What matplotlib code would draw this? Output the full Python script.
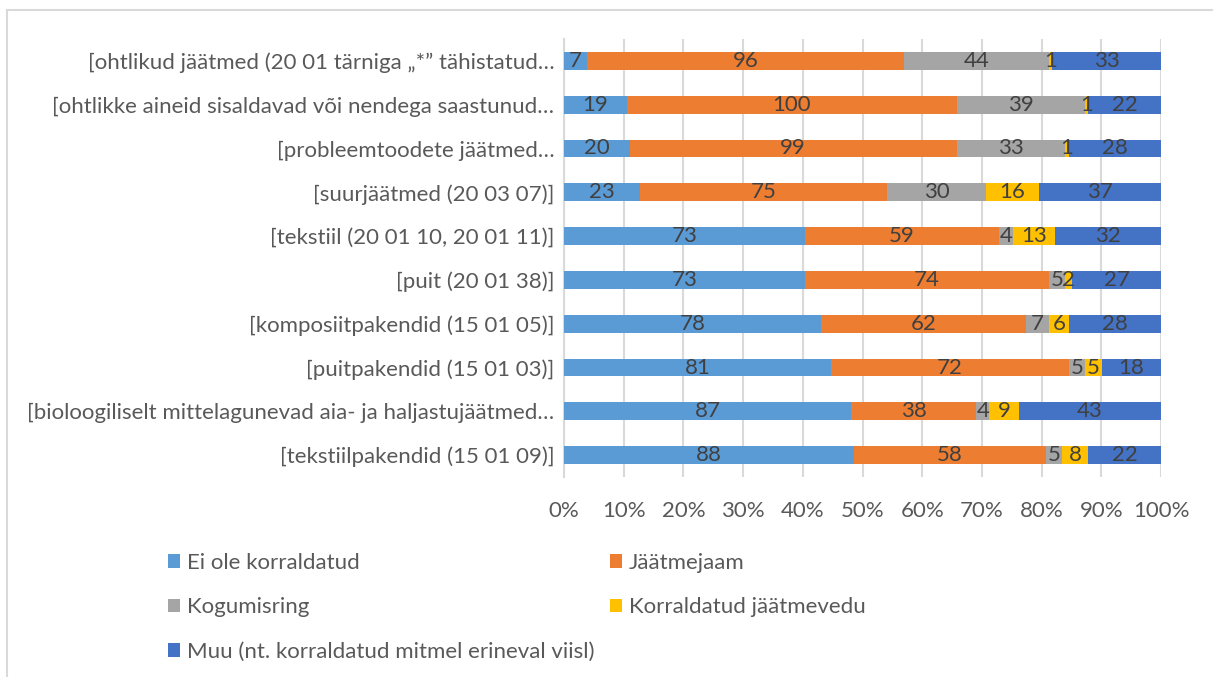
import matplotlib.pyplot as plt
import numpy as np
from matplotlib.patches import Patch
from matplotlib.ticker import PercentFormatter
from matplotlib.lines import Line2D

plt.rcParams['font.family'] = ['Lato', 'DejaVu Sans']

# kategooriad ülalt alla
categories = [
    "[ohtlikud jäätmed (20 01 tärniga „*” tähistatud…",
    "[ohtlikke aineid sisaldavad või nendega saastunud…",
    "[probleemtoodete jäätmed…",
    "[suurjäätmed (20 03 07)]",
    "[tekstiil (20 01 10, 20 01 11)]",
    "[puit (20 01 38)]",
    "[komposiitpakendid (15 01 05)]",
    "[puitpakendid (15 01 03)]",
    "[bioloogiliselt mittelagunevad aia- ja haljastujäätmed…",
    "[tekstiilpakendid (15 01 09)]",
]

series_names = [
    "Ei ole korraldatud",
    "Jäätmejaam",
    "Kogumisring",
    "Korraldatud jäätmevedu",
    "Muu (nt. korraldatud mitmel erineval viisl)",
]

ei_ole = [7, 19, 20, 23, 73, 73, 78, 81, 87, 88]
jaatmejaam = [96, 100, 99, 75, 59, 74, 62, 72, 38, 58]
kogumisring = [44, 39, 33, 30, 4, 5, 7, 5, 4, 5]
jaatmevedu = [1, 1, 1, 16, 13, 2, 6, 5, 9, 8]
muu = [33, 22, 28, 37, 32, 27, 28, 18, 43, 22]

colors = ["#5B9BD5", "#ED7D31", "#A5A5A5", "#FFC000", "#4472C4"]

values = np.array([ei_ole, jaatmejaam, kogumisring, jaatmevedu, muu], dtype=float)
totals = values.sum(axis=0)
shares = values / totals

FS = 16

W, H = 1213, 677
fig = plt.figure(figsize=(W / 100, H / 100), dpi=100)
ax = fig.add_axes([564 / W, 1 - 477 / H, 597 / W, 438 / H])

y = np.arange(len(categories))
left = np.zeros(len(categories))
for i, name in enumerate(series_names):
    ax.barh(y, shares[i], left=left, height=0.41, color=colors[i], label=name, zorder=3)
    for j in range(len(categories)):
        ax.text(left[j] + shares[i][j] / 2, y[j], f"{int(values[i][j])}",
                ha='center', va='center', fontsize=FS, color='#404040', zorder=4)
    left += shares[i]

ax.set_ylim(len(categories) - 0.5, -0.5)
ax.set_xlim(0, 1)
ax.set_yticks(y)
ax.set_yticklabels(categories, fontsize=FS, color='#595959')
ax.set_xticks(np.arange(0, 1.01, 0.1))
ax.xaxis.set_major_formatter(PercentFormatter(1.0, decimals=0))
ax.tick_params(axis='x', length=0, pad=17, labelsize=FS, labelcolor='#595959')
ax.tick_params(axis='y', length=0, pad=7)
ax.grid(axis='x', color='#D9D9D9', linewidth=1.5, zorder=0)
for s in ['top', 'right', 'bottom']:
    ax.spines[s].set_visible(False)
ax.spines['left'].set_color('#D9D9D9')
ax.spines['left'].set_linewidth(1.5)

# legend, rida-realt järjestus
handles = [Patch(facecolor=c) for c in colors]
order = [0, 2, 4, 1, 3]
fig.legend([handles[k] for k in order], [series_names[k] for k in order],
           ncol=2, loc='upper left', bbox_to_anchor=(168 / W, 1 - 553 / H),
           frameon=False, fontsize=FS, labelcolor='#595959',
           handlelength=0.55, handleheight=0.55, handletextpad=0.3,
           labelspacing=1.1, columnspacing=0.7, borderpad=0, borderaxespad=0)

# diagrammi raam
fig.add_artist(Line2D([7 / W, 1], [1 - 10 / H, 1 - 10 / H], color='#D9D9D9', linewidth=1.5))
fig.add_artist(Line2D([7 / W, 7 / W], [0, 1 - 10 / H], color='#D9D9D9', linewidth=1.5))

fig.savefig("out.png", dpi=100)
